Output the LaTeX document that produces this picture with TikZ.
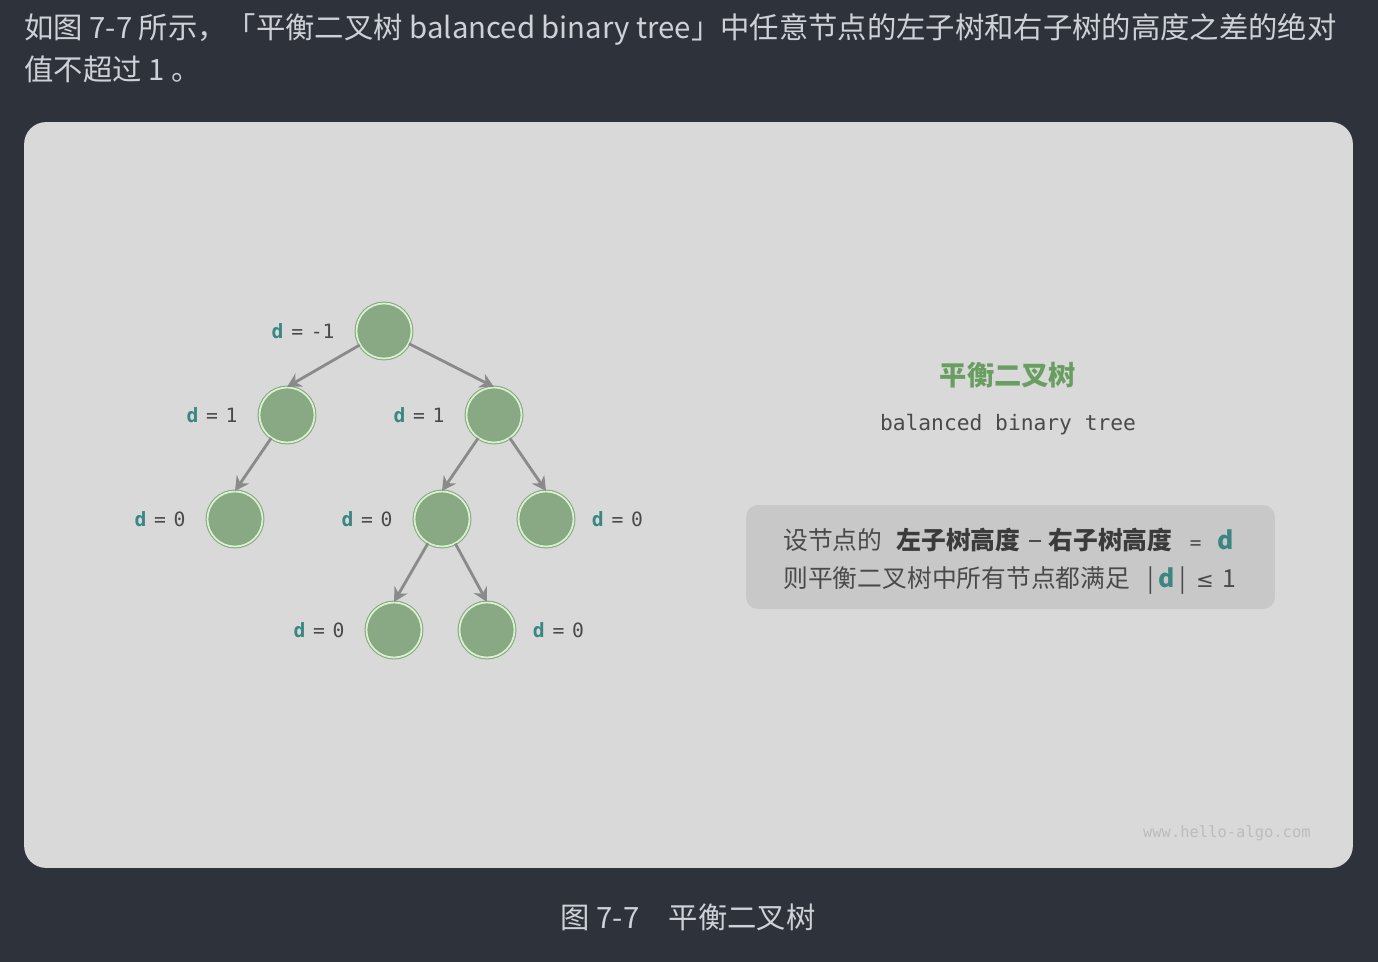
\documentclass[tikz,border=0pt]{standalone}
\usepackage{fontspec}
\usepackage{tikz}
\usetikzlibrary{positioning,arrows.meta}
\usepackage{xcolor}
\newfontfamily\cjk{Noto Sans CJK SC}
\newfontfamily\codefont{DejaVu Sans Mono}
\newfontfamily\symfont{DejaVu Sans}
\definecolor{pagebg}{RGB}{46,50,58}
\definecolor{headtext}{RGB}{206,210,216}
\definecolor{cardbg}{RGB}{217,217,217}
\definecolor{boxgray}{RGB}{200,200,200}
\definecolor{nodefill}{RGB}{137,169,132}
\definecolor{nodering}{RGB}{128,172,120}
\definecolor{noderinglight}{RGB}{222,236,218}
\definecolor{edgegray}{RGB}{138,138,138}
\definecolor{dteal}{RGB}{58,134,130}
\definecolor{labelgray}{RGB}{74,74,74}
\definecolor{titlegreen}{RGB}{104,158,96}
\definecolor{markgray}{RGB}{188,188,188}

\begin{document}
\begin{tikzpicture}[x=0.02cm, y=-0.02cm,
  treenode/.style={circle, minimum size=1.1cm, inner sep=0, fill=nodefill, draw=nodering, line width=0.6pt, double=noderinglight, double distance=1pt},
  edge/.style={draw=edgegray, line width=1.6pt, -{Stealth[length=8pt, width=8.5pt]}},
  dtag/.style={font=\codefont\fontsize{11.2pt}{13pt}\selectfont, text=labelgray, inner sep=0},
  headtxt/.style={font=\cjk\fontsize{16.7pt}{20pt}\selectfont, text=headtext, inner sep=0},
  boxtxt/.style={font=\cjk\fontsize{14.1pt}{17pt}\selectfont, text=labelgray, inner sep=0}]
\newcommand{\dval}[1]{{\color{dteal}\bfseries d}\hspace{4.4pt}=\hspace{4.4pt}#1}
\fill[pagebg] (0,0) rectangle (1378,962);
\node[headtxt, anchor=base west] (head1) at (24,39) {如图 7-7 所示，「平衡二叉树 balanced binary tree」中任意节点的左子树和右子树的高度之差的绝对};
\node[headtxt, anchor=base west] (head2) at (24,81) {值不超过 1 。};
\node[fill=cardbg, rounded corners=0.44cm, minimum width=26.58cm, minimum height=14.92cm, inner sep=0] (card) at (688.5,495) {};
\node[headtxt, anchor=base] (caption) at (688,928) {图 7-7\hspace{1em}平衡二叉树};

\node[treenode] (n0) at (384,331) {};
\node[treenode] (n1) at (287,415) {}; \node[treenode] (n2) at (494,415) {};
\node[treenode] (n3) at (235,519) {}; \node[treenode] (n4) at (442,519) {}; \node[treenode] (n5) at (546,519) {};
\node[treenode] (n6) at (394,630) {}; \node[treenode] (n7) at (487,630) {};
\draw[edge] (n0) -- (n1.north); \draw[edge] (n0) -- (n2.north);
\draw[edge] (n1) -- (n3.north);
\draw[edge] (n2) -- (n4.north); \draw[edge] (n2) -- (n5.north);
\draw[edge] (n4) -- (n6.north); \draw[edge] (n4) -- (n7.north);
\node[dtag, left=12pt of n0] (t0) {\dval{-1}};
\node[dtag, left=12pt of n1] (t1) {\dval{1}}; \node[dtag, left=12pt of n2] (t2) {\dval{1}};
\node[dtag, left=12pt of n3] (t3) {\dval{0}}; \node[dtag, left=12pt of n4] (t4) {\dval{0}};
\node[dtag, right=10pt of n5] (t5) {\dval{0}};
\node[dtag, left=12pt of n6] (t6) {\dval{0}}; \node[dtag, right=10pt of n7] (t7) {\dval{0}};

\node[font=\cjk\bfseries\fontsize{15.5pt}{18pt}\selectfont, text=titlegreen, anchor=base, inner sep=0] (title) at (1008,386) {平衡二叉树};
\node[font=\codefont\fontsize{12.1pt}{14pt}\selectfont, text=labelgray, anchor=base, inner sep=0] (subtitle) at (1008,430) {balanced binary tree};
\node[fill=boxgray, rounded corners=0.24cm, minimum width=10.58cm, minimum height=2.08cm, inner sep=0] (rulebox) at (1010.5,557) {};
\node[boxtxt, anchor=base west] (rule1) at (783,549) {设节点的\hspace{8pt}{\bfseries\color{labelgray!80!black}左子树高度}\hspace{5pt}\rule[4.2pt]{7pt}{1.1pt}\hspace{4pt}{\bfseries\color{labelgray!80!black}右子树高度}\hspace{10pt}{\codefont\fontsize{11pt}{13pt}\selectfont =}\hspace{9pt}{\bfseries\color{dteal}d}};
\node[boxtxt, anchor=base west] (rule2) at (783,587) {则平衡二叉树中所有节点都满足\hspace{10pt}|\,{\bfseries\color{dteal}d}\,|\hspace{6pt}{\symfont\fontsize{12pt}{14pt}\selectfont ≤}\hspace{5pt}1};
\node[font=\codefont\fontsize{8.8pt}{10pt}\selectfont, text=markgray, anchor=base east, inner sep=0] (site) at (1311,837) {www.hello-algo.com};
\end{tikzpicture}
\end{document}
